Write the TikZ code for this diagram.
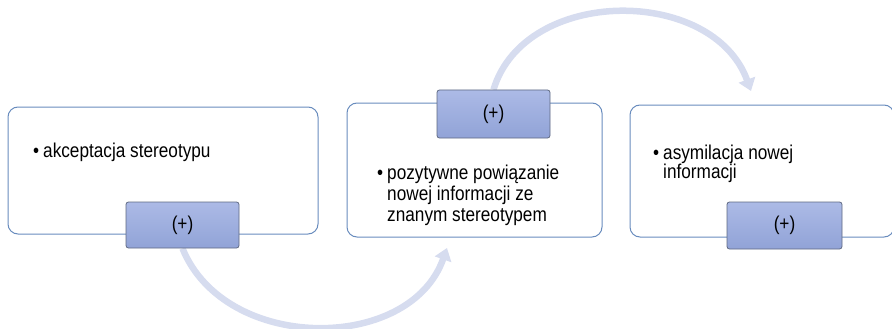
\documentclass[tikz,border=0pt]{standalone}
\usepackage{fontspec}
\setmainfont{Liberation Sans}[FakeStretch=0.86]
\usetikzlibrary{arrows.meta,positioning,backgrounds}
\definecolor{boxline}{RGB}{105,140,190}
\definecolor{tabline}{RGB}{95,105,130}
\definecolor{tabtop}{RGB}{172,186,230}
\definecolor{tabbot}{RGB}{145,163,215}
\definecolor{arcline}{RGB}{214,220,239}
\tikzset{
    stagebox/.style={draw=boxline, line width=1pt, rounded corners=10pt, fill=white},
    signtab/.style={draw=tabline, line width=0.8pt, rounded corners=2.5pt,
        top color=tabtop, bottom color=tabbot, font=\fontsize{20}{21}\selectfont},
    itemtext/.style={anchor=base west, inner sep=0pt, font=\fontsize{20}{21}\selectfont},
    flowarc/.style={draw=arcline, line width=6.5pt,
        -{Triangle[width=17pt,length=12pt]}}
}
\begin{document}
\begin{tikzpicture}[x=1pt,y=-1pt]
                \useasboundingbox (0,0) rectangle (892,329);
                % three stages
                \node[stagebox, minimum width=310pt, minimum height=127pt] (stage1) at (163,170.5) {};
                \node[stagebox, minimum width=255pt, minimum height=134pt] (stage2) at (474.5,170) {};
                \node[stagebox, minimum width=264pt, minimum height=132pt] (stage3) at (762,171) {};

                \node[signtab, minimum width=113pt, minimum height=46pt] (sign1) at (182.5,225) {(+)};
                \node[signtab, minimum width=113pt, minimum height=48pt] (sign2) at (493.5,114) {(+)};
                \node[signtab, minimum width=115pt, minimum height=47pt] (sign3) at (784.5,225.5) {(+)};

                \node[itemtext] (item1) at (33,157) {\begin{tabular}[t]{@{}l@{\hspace{4pt}}l@{}}
                    \textbullet & akceptacja stereotypu\end{tabular}};
                \node[itemtext] (item2) at (377,179) {\begin{tabular}[t]{@{}l@{\hspace{4pt}}l@{}}
                    \textbullet & pozytywne powiązanie\\ & nowej informacji ze\\ & znanym stereotypem\end{tabular}};
                \node[itemtext, font=\fontsize{20}{17}\selectfont] (item3) at (653,159) {\begin{tabular}[t]{@{}l@{\hspace{4pt}}l@{}}
                    \textbullet & asymilacja nowej\\ & informacji\end{tabular}};

                % curved arrows behind the boxes
                \coordinate (tip1) at (447,248);
                \coordinate (tip2) at (751,91);
                \begin{scope}[on background layer]
                    \draw[flowarc] (sign1.south) .. controls (225,353) and (410,353) .. (tip1);
                    \draw[flowarc] (sign2.north) .. controls (525,-14) and (713,-14) .. (tip2);
                \end{scope}
            \end{tikzpicture}
\end{document}
